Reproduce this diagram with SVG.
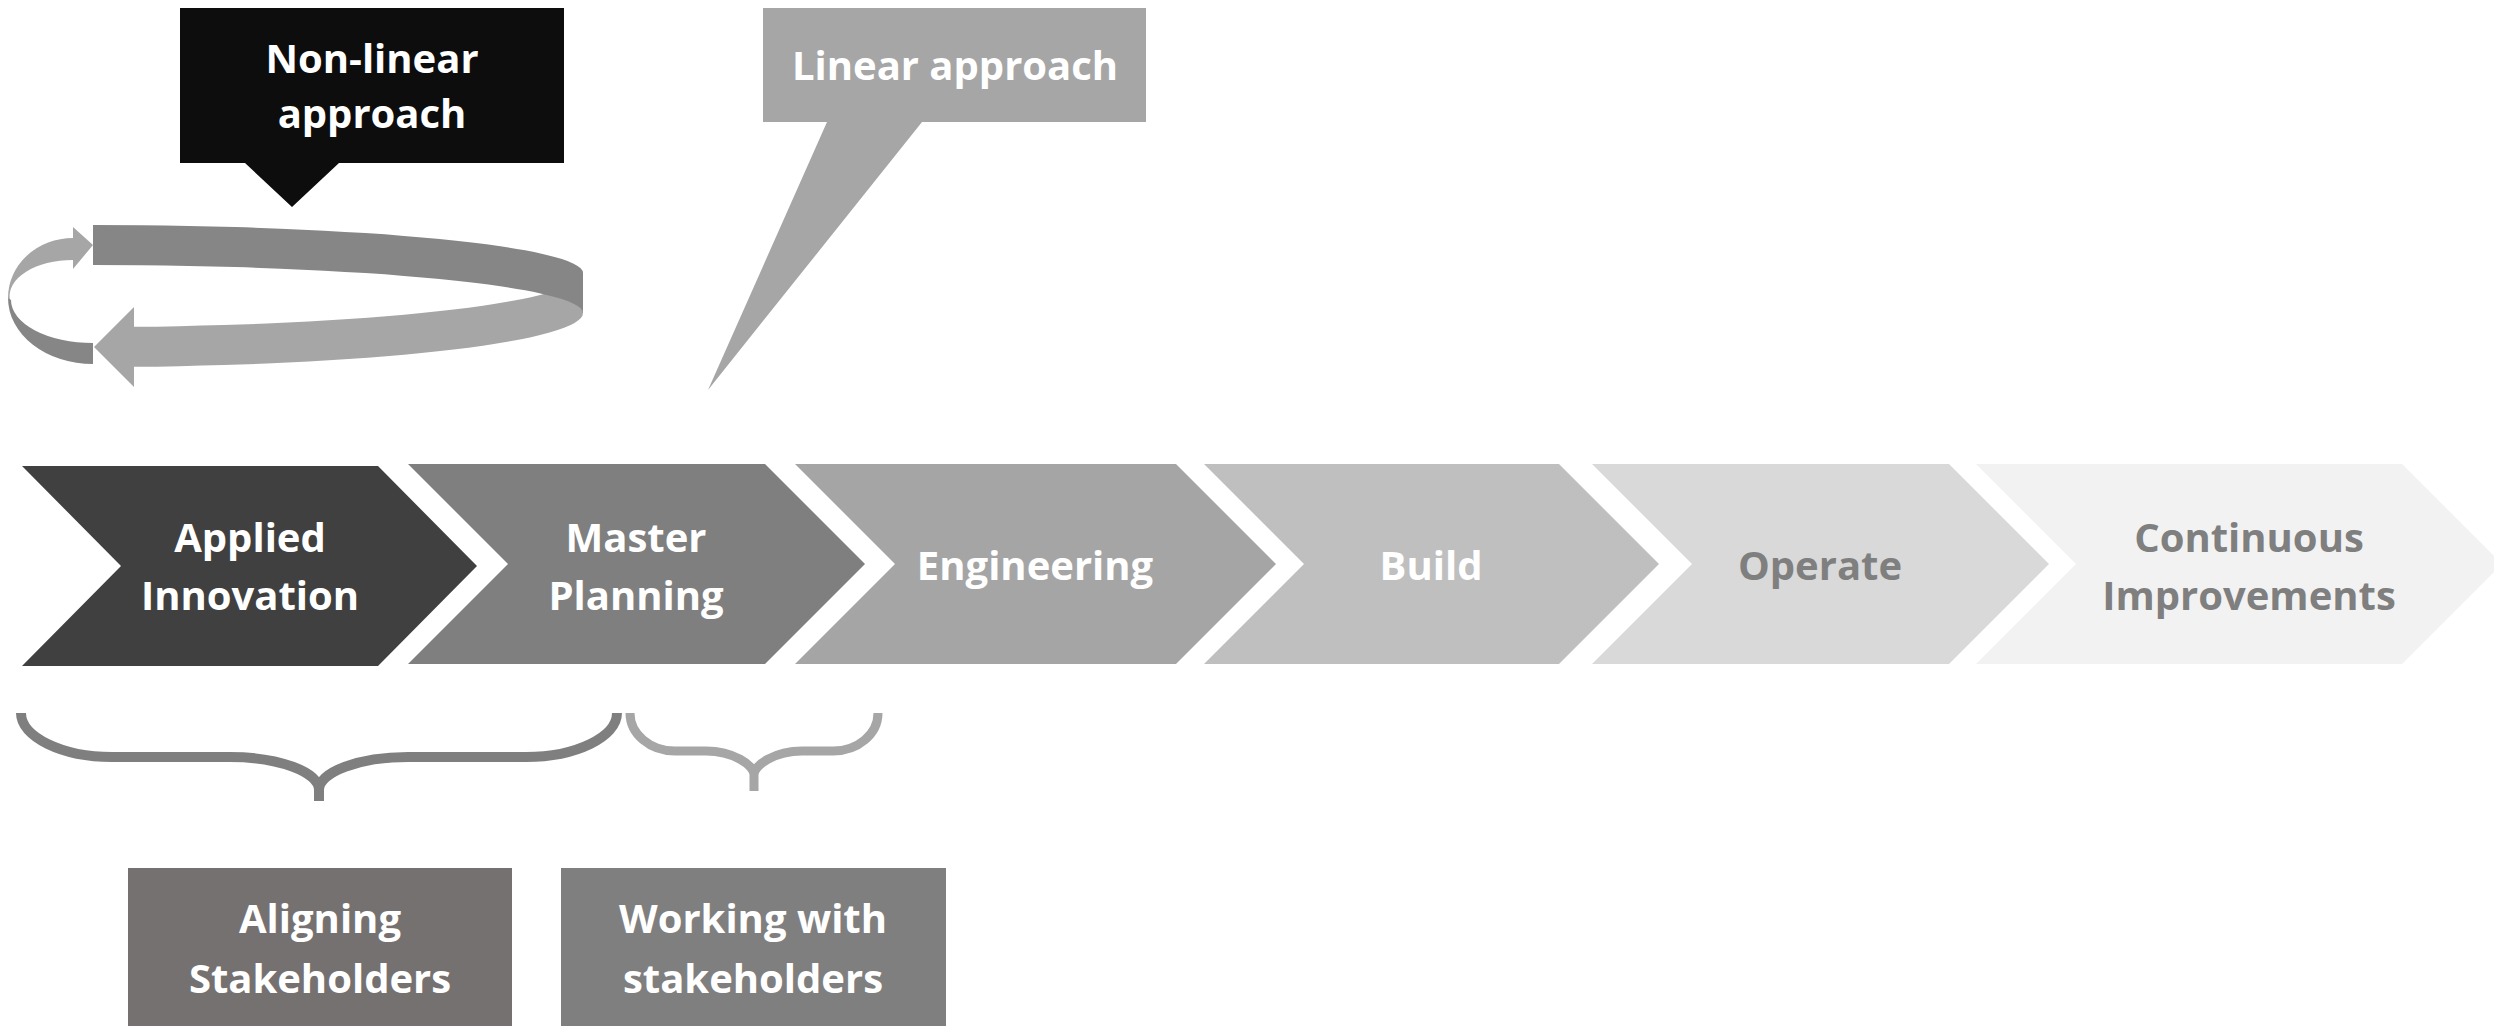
<svg xmlns="http://www.w3.org/2000/svg" width="2494" height="1026" viewBox="0 0 2494 1026">
<style>
text{font-family:"Open Sans","DejaVu Sans",sans-serif;font-weight:700;font-size:40px;text-anchor:middle}
.w{fill:#ffffff}
.g{fill:#7f7f7f}
.brace{fill:none;stroke-linecap:butt;stroke-linejoin:round}
</style>
<rect width="2494" height="1026" fill="#ffffff"/>
<g id="nonlinear-callout">
<polygon points="180,8 564,8 564,163 339,163 292,207 245,163 180,163" fill="#0d0d0d"/>
<text class="w" x="372" y="73">Non-linear</text>
<text class="w" x="372" y="128">approach</text>
</g>
<g id="linear-callout">
<polygon points="763,8 1146,8 1146,122 922,122 708,390 827,122 763,122" fill="#a6a6a6"/>
<text class="w" x="955" y="80">Linear approach</text>
</g>
<g id="cycle-arrow">
<path d="M583,273 A490 54 0 0 1 134,326.8 L134,307 L94,347 L134,387 L134,366.8 A490 54 0 0 0 583,313 Z" fill="#a6a6a6"/>
<path d="M93,225 A490 48 0 0 1 583,273 L583,313 A490 48 0 0 0 93,265 Z" fill="#868686"/>
<path d="M73,238 A65 60 0 0 0 8,298 L10,300 A63 36 0 0 1 73,260 Z" fill="#a6a6a6"/>
<polygon points="73,227 93,245 73,269" fill="#a6a6a6"/>
<path d="M8,298 A85 66 0 0 0 93,364 L93,343 A82 43 0 0 1 11,300 Z" fill="#868686"/>
</g>
<g id="chevron-applied-innovation">
<polygon points="22,466 378,466 477,566 378,666 22,666 121,566" fill="#404040"/>
<text class="w" x="250" y="552">Applied</text>
<text class="w" x="250" y="610">Innovation</text>
</g>
<g id="chevron-master-planning">
<polygon points="408,464 765,464 865,564 765,664 408,664 508,564" fill="#7f7f7f"/>
<text class="w" x="636" y="552">Master</text>
<text class="w" x="636" y="610">Planning</text>
</g>
<g id="chevron-engineering">
<polygon points="795,464 1176,464 1276,564 1176,664 795,664 895,564" fill="#a5a5a5"/>
<text class="w" x="1035" y="580">Engineering</text>
</g>
<g id="chevron-build">
<polygon points="1204,464 1559,464 1659,564 1559,664 1204,664 1304,564" fill="#bfbfbf"/>
<text class="w" x="1431" y="580">Build</text>
</g>
<g id="chevron-operate">
<polygon points="1592,464 1949,464 2049,564 1949,664 1592,664 1692,564" fill="#d9d9d9"/>
<text class="g" x="1820" y="580">Operate</text>
</g>
<g id="chevron-continuous-improvements">
<polygon points="1976,464 2402,464 2502,564 2402,664 1976,664 2076,564" fill="#f2f2f2"/>
<text class="g" x="2249" y="552">Continuous</text>
<text class="g" x="2249" y="610">Improvements</text>
</g>
<g id="connectors">
<path class="brace" stroke="#7f7f7f" stroke-width="10" d="M21,713 C21,737 62,757 112,757 L230,757 C279,757 319,772 319,790 L319,801 M319,790 C319,772 359,757 408,757 L526,757 C576,757 617,737 617,713"/>
<path class="brace" stroke="#a6a6a6" stroke-width="9" d="M630,713 C630,734 650,751 675,751 L706,751 C733,751 754,765 754,775 L754,791 M754,775 C754,765 775,751 802,751 L833,751 C858,751 878,734 878,713"/>
</g>
<g id="aligning-stakeholders">
<rect x="128" y="868" width="384" height="158" fill="#767171"/>
<text class="w" x="320" y="933">Aligning</text>
<text class="w" x="320" y="993">Stakeholders</text>
</g>
<g id="working-with-stakeholders">
<rect x="561" y="868" width="385" height="158" fill="#7f7f7f"/>
<text class="w" x="753" y="933">Working with</text>
<text class="w" x="753" y="993">stakeholders</text>
</g>
</svg>
